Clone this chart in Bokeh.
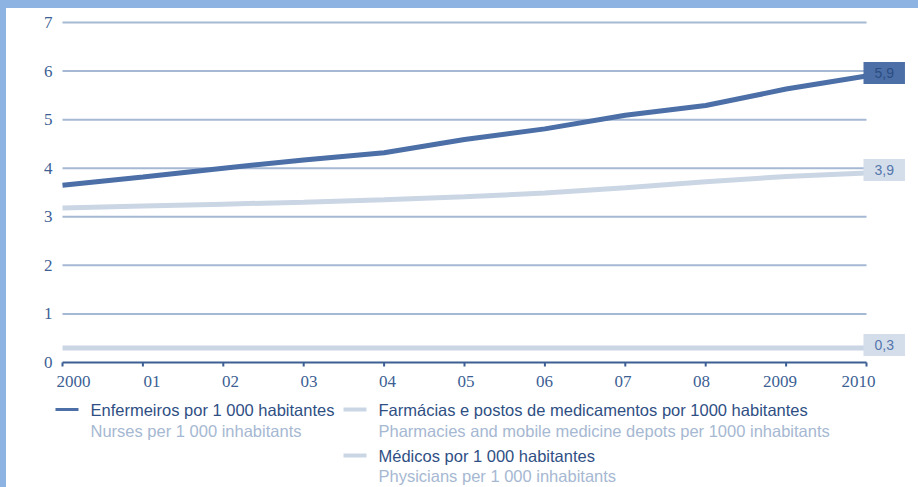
from bokeh.plotting import figure
from bokeh.models import Range1d, Label, BoxAnnotation, Spacer
from bokeh.layouts import row, column
from bokeh.embed import file_html
from bokeh.resources import INLINE

# Health resources per 1 000 inhabitants, 2000-2010
years = [2000, 2001, 2002, 2003, 2004, 2005, 2006, 2007, 2008, 2009, 2010]
year_labels = ["2000", "01", "02", "03", "04", "05", "06", "07", "08", "2009", "2010"]
nurses = [3.65, 3.82, 4.00, 4.17, 4.32, 4.59, 4.81, 5.09, 5.29, 5.63, 5.9]
pharmacies = [3.18, 3.22, 3.26, 3.30, 3.35, 3.41, 3.49, 3.60, 3.72, 3.83, 3.9]
physicians = [0.3, 0.3, 0.3, 0.3, 0.3, 0.3, 0.3, 0.3, 0.3, 0.3, 0.3]
y_ticks = [0, 1, 2, 3, 4, 5, 6, 7]

legend_pt = ["Enfermeiros por 1 000 habitantes",
             "Farmácias e postos de medicamentos por 1000 habitantes",
             "Médicos por 1 000 habitantes"]
legend_en = ["Nurses per 1 000 inhabitants",
             "Pharmacies and mobile medicine depots per 1000 inhabitants",
             "Physicians per 1 000 inhabitants"]

FONT = "Liberation Sans"
DARK = "#4b6fa6"
LIGHT = "#cbd6e5"
TICK_TXT = "#3d5f94"
GRID = "#a6b9d4"
BORDER = "#8db3e2"

# Canvas geometry (pixels): the plotting frame fills the whole canvas so that
# the value tags and the legend below the axis can be drawn inside it.
W, H = 912, 479
PAD_L, PAD_R, PAD_T, PAD_B = 56, 52, 14, 125
px_per_year = (W - PAD_L - PAD_R) / (years[-1] - years[0])
px_per_unit = (H - PAD_T - PAD_B) / (y_ticks[-1] - y_ticks[0])

x_range = Range1d(years[0] - PAD_L / px_per_year, years[-1] + PAD_R / px_per_year)
y_range = Range1d(y_ticks[0] - PAD_B / px_per_unit, y_ticks[-1] + PAD_T / px_per_unit)

p = figure(width=W, height=H, output_backend="svg", toolbar_location=None,
           x_range=x_range, y_range=y_range, min_border=0,
           x_axis_location=None, y_axis_location=None,
           background_fill_color="white", border_fill_color="white",
           outline_line_color=None)
p.grid.visible = False

# horizontal grid lines
grid_y = y_ticks[1:]
p.segment(x0=[years[0]] * len(grid_y), x1=[years[-1]] * len(grid_y),
          y0=grid_y, y1=grid_y, line_color=GRID, line_width=2)

# x axis: base line, tick marks and labels
p.segment(x0=[years[0]], x1=[years[-1]], y0=[0], y1=[0],
          line_color=TICK_TXT, line_width=2)
tick_len = 4 / px_per_unit
p.segment(x0=years, x1=years, y0=[0] * len(years), y1=[-tick_len] * len(years),
          line_color=TICK_TXT, line_width=2)
n = len(years)
label_shift = [11 - 19 * i / (n - 1) for i in range(n)]
p.text(x=years, y=[0] * n, text=year_labels, x_offset=label_shift, y_offset=13,
       text_align="center", text_baseline="top", text_font=FONT,
       text_font_size="17px", text_color=TICK_TXT)

# y axis labels
p.text(x=[years[0]] * len(y_ticks), y=y_ticks, text=[str(t) for t in y_ticks],
       x_offset=-10, text_align="right", text_baseline="middle",
       text_font=FONT, text_font_size="17px", text_color=TICK_TXT)

# series
p.line(years, physicians, line_color=LIGHT, line_width=5)
p.line(years, pharmacies, line_color=LIGHT, line_width=5)
p.line(years, nurses, line_color=DARK, line_width=5)


def fmt(v):
    return f"{v:.1f}".replace(".", ",")


# end-of-line value tags
for series, fill, txt in ((nurses, DARK, "#2c4d82"),
                          (pharmacies, "#d4deeb", "#5476ab"),
                          (physicians, "#d4deeb", "#5476ab")):
    p.add_layout(Label(x=years[-1], y=series[-1], text=fmt(series[-1]),
                       x_offset=-3, y_offset=3,
                       text_align="left", text_baseline="middle",
                       text_font=FONT, text_font_size="14px", text_color=txt,
                       background_fill_color=fill,
                       padding=dict(left=11, right=11, top=6, bottom=6)))

# legend below the axis (screen offsets from the lower-left corner)
rows = [(49, 84, 78, 57, DARK, 3),
        (337, 372, 78, 57, LIGHT, 4),
        (337, 372, 32, 12, LIGHT, 4)]
for (sw_x, tx, y1, y2, col, th), pt, en in zip(rows, legend_pt, legend_en):
    p.add_layout(BoxAnnotation(left=sw_x, right=sw_x + 23,
                               bottom=y1 - th / 2, top=y1 + th / 2,
                               left_units="screen", right_units="screen",
                               bottom_units="screen", top_units="screen",
                               fill_color=col, fill_alpha=1, line_color=None))
    p.add_layout(Label(x=tx, y=y1, x_units="screen", y_units="screen",
                       text=pt, text_font=FONT, text_font_size="16.5px",
                       text_color="#2f4f84", text_baseline="middle"))
    p.add_layout(Label(x=tx, y=y2, x_units="screen", y_units="screen",
                       text=en, text_font=FONT, text_font_size="16.5px",
                       text_color="#a6b8d2", text_baseline="middle"))

left_bar = Spacer(width=6, height=H + 8, styles={"background-color": BORDER})
top_bar = Spacer(width=W, height=8, styles={"background-color": BORDER})
layout = row(left_bar, column(top_bar, p, spacing=0), spacing=0)

open("out.html", "w").write(file_html(layout, INLINE))
